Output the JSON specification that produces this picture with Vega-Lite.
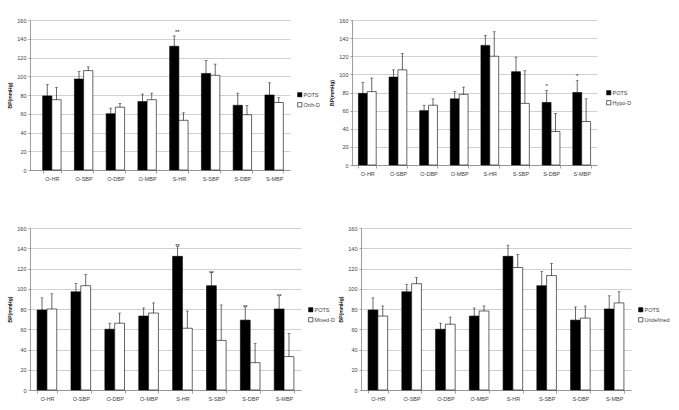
{
  "$schema": "https://vega.github.io/schema/vega-lite/v6.json",
  "padding": {"left": 7, "top": 18, "right": 0, "bottom": 0},
  "background": "white",
  "config": {
    "view": {"stroke": null},
    "font": "Liberation Sans",
    "axis": {"labelFont": "Liberation Sans", "labelFontSize": 5.5, "labelColor": "#404040", "domainColor": "#868686", "tickColor": "#868686", "domainWidth": 0.8, "tickWidth": 0.8, "labelOverlap": false},
    "axisY": {"title": "BP(mmHg)", "titleFontSize": 5, "titleFontWeight": "bold", "titleColor": "#202020", "titlePadding": 4, "tickCount": 10, "labelOverlap": false, "tickSize": 2, "labelPadding": 2, "gridColor": "#c4c4c4", "gridWidth": 0.8},
    "legend": {"labelFont": "Liberation Sans", "labelFontSize": 5.5, "labelColor": "#404040", "symbolType": "square", "symbolSize": 18, "symbolStrokeColor": "black", "symbolStrokeWidth": 0.6, "rowPadding": 2, "labelOffset": 1}
  },
  "datasets": {
    "bp": [
      {"panel": "A", "cat": "O-HR", "grp": "POTS", "value": 79, "upper": 91},
      {"panel": "A", "cat": "O-SBP", "grp": "POTS", "value": 97, "upper": 105},
      {"panel": "A", "cat": "O-DBP", "grp": "POTS", "value": 60, "upper": 66},
      {"panel": "A", "cat": "O-MBP", "grp": "POTS", "value": 73, "upper": 81},
      {"panel": "A", "cat": "S-HR", "grp": "POTS", "value": 132, "upper": 143, "sig": "**"},
      {"panel": "A", "cat": "S-SBP", "grp": "POTS", "value": 103, "upper": 117},
      {"panel": "A", "cat": "S-DBP", "grp": "POTS", "value": 69, "upper": 82},
      {"panel": "A", "cat": "S-MBP", "grp": "POTS", "value": 80, "upper": 93},
      {"panel": "A", "cat": "O-HR", "grp": "Orth-D", "value": 75, "upper": 88},
      {"panel": "A", "cat": "O-SBP", "grp": "Orth-D", "value": 106, "upper": 110},
      {"panel": "A", "cat": "O-DBP", "grp": "Orth-D", "value": 67, "upper": 71},
      {"panel": "A", "cat": "O-MBP", "grp": "Orth-D", "value": 75, "upper": 82},
      {"panel": "A", "cat": "S-HR", "grp": "Orth-D", "value": 53, "upper": 61},
      {"panel": "A", "cat": "S-SBP", "grp": "Orth-D", "value": 101, "upper": 113},
      {"panel": "A", "cat": "S-DBP", "grp": "Orth-D", "value": 59, "upper": 69},
      {"panel": "A", "cat": "S-MBP", "grp": "Orth-D", "value": 72, "upper": 77},

      {"panel": "B", "cat": "O-HR", "grp": "POTS", "value": 79, "upper": 91},
      {"panel": "B", "cat": "O-SBP", "grp": "POTS", "value": 97, "upper": 105},
      {"panel": "B", "cat": "O-DBP", "grp": "POTS", "value": 60, "upper": 66},
      {"panel": "B", "cat": "O-MBP", "grp": "POTS", "value": 73, "upper": 81},
      {"panel": "B", "cat": "S-HR", "grp": "POTS", "value": 132, "upper": 143},
      {"panel": "B", "cat": "S-SBP", "grp": "POTS", "value": 103, "upper": 119},
      {"panel": "B", "cat": "S-DBP", "grp": "POTS", "value": 69, "upper": 82, "sig": "*"},
      {"panel": "B", "cat": "S-MBP", "grp": "POTS", "value": 80, "upper": 93, "sig": "*"},
      {"panel": "B", "cat": "O-HR", "grp": "Hypo-D", "value": 81, "upper": 96},
      {"panel": "B", "cat": "O-SBP", "grp": "Hypo-D", "value": 105, "upper": 123},
      {"panel": "B", "cat": "O-DBP", "grp": "Hypo-D", "value": 66, "upper": 73},
      {"panel": "B", "cat": "O-MBP", "grp": "Hypo-D", "value": 78, "upper": 86},
      {"panel": "B", "cat": "S-HR", "grp": "Hypo-D", "value": 120, "upper": 147},
      {"panel": "B", "cat": "S-SBP", "grp": "Hypo-D", "value": 68, "upper": 104},
      {"panel": "B", "cat": "S-DBP", "grp": "Hypo-D", "value": 37, "upper": 57},
      {"panel": "B", "cat": "S-MBP", "grp": "Hypo-D", "value": 48, "upper": 73},

      {"panel": "C", "cat": "O-HR", "grp": "POTS", "value": 79, "upper": 91},
      {"panel": "C", "cat": "O-SBP", "grp": "POTS", "value": 97, "upper": 105},
      {"panel": "C", "cat": "O-DBP", "grp": "POTS", "value": 60, "upper": 66},
      {"panel": "C", "cat": "O-MBP", "grp": "POTS", "value": 73, "upper": 81},
      {"panel": "C", "cat": "S-HR", "grp": "POTS", "value": 132, "upper": 142, "sig": "**"},
      {"panel": "C", "cat": "S-SBP", "grp": "POTS", "value": 103, "upper": 116, "sig": "**"},
      {"panel": "C", "cat": "S-DBP", "grp": "POTS", "value": 69, "upper": 82, "sig": "**"},
      {"panel": "C", "cat": "S-MBP", "grp": "POTS", "value": 80, "upper": 93, "sig": "**"},
      {"panel": "C", "cat": "O-HR", "grp": "Mixed-D", "value": 80, "upper": 95},
      {"panel": "C", "cat": "O-SBP", "grp": "Mixed-D", "value": 103, "upper": 114},
      {"panel": "C", "cat": "O-DBP", "grp": "Mixed-D", "value": 66, "upper": 76},
      {"panel": "C", "cat": "O-MBP", "grp": "Mixed-D", "value": 76, "upper": 86},
      {"panel": "C", "cat": "S-HR", "grp": "Mixed-D", "value": 61, "upper": 78},
      {"panel": "C", "cat": "S-SBP", "grp": "Mixed-D", "value": 49, "upper": 84},
      {"panel": "C", "cat": "S-DBP", "grp": "Mixed-D", "value": 27, "upper": 46},
      {"panel": "C", "cat": "S-MBP", "grp": "Mixed-D", "value": 33, "upper": 56},

      {"panel": "D", "cat": "O-HR", "grp": "POTS", "value": 79, "upper": 91},
      {"panel": "D", "cat": "O-SBP", "grp": "POTS", "value": 97, "upper": 104},
      {"panel": "D", "cat": "O-DBP", "grp": "POTS", "value": 60, "upper": 66},
      {"panel": "D", "cat": "O-MBP", "grp": "POTS", "value": 73, "upper": 81},
      {"panel": "D", "cat": "S-HR", "grp": "POTS", "value": 132, "upper": 143},
      {"panel": "D", "cat": "S-SBP", "grp": "POTS", "value": 103, "upper": 117},
      {"panel": "D", "cat": "S-DBP", "grp": "POTS", "value": 69, "upper": 82},
      {"panel": "D", "cat": "S-MBP", "grp": "POTS", "value": 80, "upper": 93},
      {"panel": "D", "cat": "O-HR", "grp": "Undefined", "value": 73, "upper": 83},
      {"panel": "D", "cat": "O-SBP", "grp": "Undefined", "value": 105, "upper": 111},
      {"panel": "D", "cat": "O-DBP", "grp": "Undefined", "value": 65, "upper": 72},
      {"panel": "D", "cat": "O-MBP", "grp": "Undefined", "value": 78, "upper": 83},
      {"panel": "D", "cat": "S-HR", "grp": "Undefined", "value": 121, "upper": 134},
      {"panel": "D", "cat": "S-SBP", "grp": "Undefined", "value": 113, "upper": 125},
      {"panel": "D", "cat": "S-DBP", "grp": "Undefined", "value": 71, "upper": 83},
      {"panel": "D", "cat": "S-MBP", "grp": "Undefined", "value": 86, "upper": 97}
    ]
  },
  "spacing": 44,
  "resolve": {"scale": {"color": "independent", "x": "independent", "y": "independent", "xOffset": "independent"}, "legend": {"color": "independent"}},
  "vconcat": [
    {
      "hconcat": [
        {
          "width": 260, "height": 150,
          "data": {"name": "bp"},
          "transform": [{"filter": "datum.panel == 'A'"}],
          "encoding": {
            "x": {"field": "cat", "type": "nominal", "sort": ["O-HR", "O-SBP", "O-DBP", "O-MBP", "S-HR", "S-SBP", "S-DBP", "S-MBP"], "scale": {"paddingInner": 0.42, "paddingOuter": 0.3045, "align": 0.655}, "axis": {"title": null, "labelAngle": 0, "tickBand": "extent", "tickSize": 3, "labelPadding": 3, "grid": false}},
            "xOffset": {"field": "grp", "type": "nominal", "sort": ["POTS", "Orth-D"], "scale": {"domain": ["POTS", "Orth-D"]}}
          },
          "layer": [
            {"mark": {"type": "bar", "stroke": "black", "strokeWidth": 0.6},
             "encoding": {
               "y": {"field": "value", "type": "quantitative", "scale": {"domain": [0, 160]}, "axis": {"title": "BP(mmHg)", "values": [0, 20, 40, 60, 80, 100, 120, 140, 160], "tickCount": 10, "labelOverlap": false}},
               "color": {"field": "grp", "type": "nominal", "scale": {"domain": ["POTS", "Orth-D"], "range": ["black", "white"]}, "legend": {"title": null, "orient": "none", "legendX": 267, "legendY": 72}}
             }},
            {"mark": {"type": "rule", "color": "black", "strokeWidth": 0.6},
             "encoding": {"y": {"field": "value", "type": "quantitative", "axis": {"title": "BP(mmHg)", "values": [0, 20, 40, 60, 80, 100, 120, 140, 160], "tickCount": 10, "labelOverlap": false}}, "y2": {"field": "upper"}}},
            {"mark": {"type": "tick", "color": "black", "size": 3, "thickness": 0.6},
             "encoding": {"y": {"field": "upper", "type": "quantitative", "axis": {"title": "BP(mmHg)", "values": [0, 20, 40, 60, 80, 100, 120, 140, 160], "tickCount": 10, "labelOverlap": false}}}},
            {"transform": [{"filter": "datum.sig"}],
             "mark": {"type": "text", "baseline": "bottom", "dy": -1, "dx": 3, "fontSize": 6, "color": "#202020"},
             "encoding": {"y": {"field": "upper", "type": "quantitative", "axis": {"title": "BP(mmHg)", "values": [0, 20, 40, 60, 80, 100, 120, 140, 160], "tickCount": 10, "labelOverlap": false}}, "text": {"field": "sig"}}}
          ]
        },
        {
          "width": 245, "height": 145,
          "data": {"name": "bp"},
          "transform": [{"filter": "datum.panel == 'B'"}],
          "encoding": {
            "x": {"field": "cat", "type": "nominal", "sort": ["O-HR", "O-SBP", "O-DBP", "O-MBP", "S-HR", "S-SBP", "S-DBP", "S-MBP"], "scale": {"paddingInner": 0.42, "paddingOuter": 0.21}, "axis": {"title": null, "labelAngle": 0, "tickBand": "extent", "tickSize": 3, "labelPadding": 3, "grid": false}},
            "xOffset": {"field": "grp", "type": "nominal", "sort": ["POTS", "Hypo-D"], "scale": {"domain": ["POTS", "Hypo-D"]}}
          },
          "layer": [
            {"mark": {"type": "bar", "stroke": "black", "strokeWidth": 0.6},
             "encoding": {
               "y": {"field": "value", "type": "quantitative", "scale": {"domain": [0, 160]}, "axis": {"title": "BP(mmHg)", "values": [0, 20, 40, 60, 80, 100, 120, 140, 160], "tickCount": 10, "labelOverlap": false}},
               "color": {"field": "grp", "type": "nominal", "scale": {"domain": ["POTS", "Hypo-D"], "range": ["black", "white"]}, "legend": {"title": null, "orient": "none", "legendX": 254, "legendY": 70}}
             }},
            {"mark": {"type": "rule", "color": "black", "strokeWidth": 0.6},
             "encoding": {"y": {"field": "value", "type": "quantitative", "axis": {"title": "BP(mmHg)", "values": [0, 20, 40, 60, 80, 100, 120, 140, 160], "tickCount": 10, "labelOverlap": false}}, "y2": {"field": "upper"}}},
            {"mark": {"type": "tick", "color": "black", "size": 3, "thickness": 0.6},
             "encoding": {"y": {"field": "upper", "type": "quantitative", "axis": {"title": "BP(mmHg)", "values": [0, 20, 40, 60, 80, 100, 120, 140, 160], "tickCount": 10, "labelOverlap": false}}}},
            {"transform": [{"filter": "datum.sig"}],
             "mark": {"type": "text", "baseline": "bottom", "dy": -2, "fontSize": 6, "color": "#202020"},
             "encoding": {"y": {"field": "upper", "type": "quantitative", "axis": {"title": "BP(mmHg)", "values": [0, 20, 40, 60, 80, 100, 120, 140, 160], "tickCount": 10, "labelOverlap": false}}, "text": {"field": "sig"}}}
          ]
        }
      ],
      "spacing": 9,
      "resolve": {"scale": {"color": "independent", "x": "independent", "y": "independent", "xOffset": "independent"}, "legend": {"color": "independent"}}
    },
    {
      "hconcat": [
        {
          "width": 271, "height": 162,
          "data": {"name": "bp"},
          "transform": [{"filter": "datum.panel == 'C'"}],
          "encoding": {
            "x": {"field": "cat", "type": "nominal", "sort": ["O-HR", "O-SBP", "O-DBP", "O-MBP", "S-HR", "S-SBP", "S-DBP", "S-MBP"], "scale": {"paddingInner": 0.42, "paddingOuter": 0.21}, "axis": {"title": null, "labelAngle": 0, "tickBand": "extent", "tickSize": 3, "labelPadding": 3, "grid": false}},
            "xOffset": {"field": "grp", "type": "nominal", "sort": ["POTS", "Mixed-D"], "scale": {"domain": ["POTS", "Mixed-D"]}}
          },
          "layer": [
            {"mark": {"type": "bar", "stroke": "black", "strokeWidth": 0.6},
             "encoding": {
               "y": {"field": "value", "type": "quantitative", "scale": {"domain": [0, 160]}, "axis": {"title": "BP(mmHg)", "values": [0, 20, 40, 60, 80, 100, 120, 140, 160], "tickCount": 10, "labelOverlap": false}},
               "color": {"field": "grp", "type": "nominal", "scale": {"domain": ["POTS", "Mixed-D"], "range": ["black", "white"]}, "legend": {"title": null, "orient": "none", "legendX": 278, "legendY": 79}}
             }},
            {"mark": {"type": "rule", "color": "black", "strokeWidth": 0.6},
             "encoding": {"y": {"field": "value", "type": "quantitative", "axis": {"title": "BP(mmHg)", "values": [0, 20, 40, 60, 80, 100, 120, 140, 160], "tickCount": 10, "labelOverlap": false}}, "y2": {"field": "upper"}}},
            {"mark": {"type": "tick", "color": "black", "size": 3, "thickness": 0.6},
             "encoding": {"y": {"field": "upper", "type": "quantitative", "axis": {"title": "BP(mmHg)", "values": [0, 20, 40, 60, 80, 100, 120, 140, 160], "tickCount": 10, "labelOverlap": false}}}},
            {"transform": [{"filter": "datum.sig"}],
             "mark": {"type": "text", "baseline": "middle", "dy": 0, "fontSize": 6, "color": "#202020"},
             "encoding": {"y": {"field": "upper", "type": "quantitative", "axis": {"title": "BP(mmHg)", "values": [0, 20, 40, 60, 80, 100, 120, 140, 160], "tickCount": 10, "labelOverlap": false}}, "text": {"field": "sig"}}}
          ]
        },
        {
          "width": 270, "height": 162,
          "data": {"name": "bp"},
          "transform": [{"filter": "datum.panel == 'D'"}],
          "encoding": {
            "x": {"field": "cat", "type": "nominal", "sort": ["O-HR", "O-SBP", "O-DBP", "O-MBP", "S-HR", "S-SBP", "S-DBP", "S-MBP"], "scale": {"paddingInner": 0.42, "paddingOuter": 0.21}, "axis": {"title": null, "labelAngle": 0, "tickBand": "extent", "tickSize": 3, "labelPadding": 3, "grid": false}},
            "xOffset": {"field": "grp", "type": "nominal", "sort": ["POTS", "Undefined"], "scale": {"domain": ["POTS", "Undefined"]}}
          },
          "layer": [
            {"mark": {"type": "bar", "stroke": "black", "strokeWidth": 0.6},
             "encoding": {
               "y": {"field": "value", "type": "quantitative", "scale": {"domain": [0, 160]}, "axis": {"title": "BP(mmHg)", "values": [0, 20, 40, 60, 80, 100, 120, 140, 160], "tickCount": 10, "labelOverlap": false}},
               "color": {"field": "grp", "type": "nominal", "scale": {"domain": ["POTS", "Undefined"], "range": ["black", "white"]}, "legend": {"title": null, "orient": "none", "legendX": 277, "legendY": 79}}
             }},
            {"mark": {"type": "rule", "color": "black", "strokeWidth": 0.6},
             "encoding": {"y": {"field": "value", "type": "quantitative", "axis": {"title": "BP(mmHg)", "values": [0, 20, 40, 60, 80, 100, 120, 140, 160], "tickCount": 10, "labelOverlap": false}}, "y2": {"field": "upper"}}},
            {"mark": {"type": "tick", "color": "black", "size": 3, "thickness": 0.6},
             "encoding": {"y": {"field": "upper", "type": "quantitative", "axis": {"title": "BP(mmHg)", "values": [0, 20, 40, 60, 80, 100, 120, 140, 160], "tickCount": 10, "labelOverlap": false}}}}
          ]
        }
      ],
      "spacing": 3,
      "resolve": {"scale": {"color": "independent", "x": "independent", "y": "independent", "xOffset": "independent"}, "legend": {"color": "independent"}}
    }
  ]
}
